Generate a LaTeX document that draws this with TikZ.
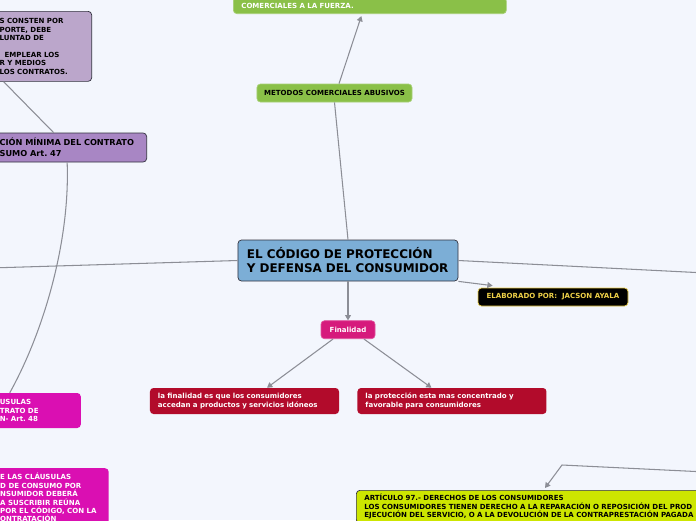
\documentclass[tikz,border=0pt]{standalone}
\usepackage{fontspec}
\setmainfont{DejaVu Sans}
\usetikzlibrary{arrows.meta, positioning}
\definecolor{mapbg}{RGB}{243, 246, 253}
\definecolor{mapline}{RGB}{140, 142, 150}
\definecolor{mapedge}{RGB}{50, 50, 62}
\definecolor{lilac}{RGB}{187, 166, 203}
\definecolor{mapviolet}{RGB}{168, 134, 196}
\definecolor{mapgreen}{RGB}{138, 192, 72}
\definecolor{mapblue}{RGB}{124, 174, 214}
\definecolor{mappink}{RGB}{214, 26, 124}
\definecolor{mapred}{RGB}{178, 11, 43}
\definecolor{mapmagenta}{RGB}{218, 15, 178}
\definecolor{maplime}{RGB}{205, 230, 0}
\definecolor{mapgold}{RGB}{238, 208, 72}
\newcommand{\mapfont}{\fontsize{6}{7.2}\selectfont\bfseries}
\newcommand{\titlefont}{\fontsize{10.2}{11.9}\selectfont\bfseries}
\newcommand{\midfont}{\fontsize{7}{9.35}\selectfont\bfseries}
\tikzset{
  darkbox/.style={
    rectangle, rounded corners=3pt,
    fill=#1, draw=mapedge, line width=0.6pt,
    inner sep=0pt, font=\mapfont
  },
  lightbox/.style={
    rectangle, rounded corners=3pt,
    fill=#1, draw=#1!75!white, line width=0.6pt,
    inner sep=0pt, font=\mapfont
  },
  flatbox/.style={
    rectangle, rounded corners=3pt,
    fill=#1, inner sep=0pt, font=\mapfont
  },
  link/.style={
    draw=mapline, line width=0.9pt
  },
  arrow/.style={
    link, -{Triangle[length=4.5pt, width=5pt]}
  }
}

\begin{document}
\frenchspacing
\begin{tikzpicture}[x=0.03cm, y=-0.03cm]

  % ── Canvas ─────────────────────────────────────────────
  \fill[mapbg] (0,0) rectangle (696,520);
  \useasboundingbox (0,0) rectangle (696,520);
  \clip (0,0) rectangle (696,520);

  % ── Central topic ──────────────────────────────────────
  \node[darkbox=mapblue, font=\titlefont,
        minimum width=6.6cm, minimum height=1.23cm,
        text width=6.06cm, inner xsep=0.27cm, align=left]
    (codigo) at (348,260.5)
    {EL CÓDIGO DE PROTECCIÓN\\Y DEFENSA DEL CONSUMIDOR};

  % ── Upper branch ───────────────────────────────────────
  \node[lightbox=mapgreen, minimum width=4.65cm, minimum height=0.54cm]
    (metodos) at (334.5,93) {METODOS COMERCIALES ABUSIVOS};
  \node[lightbox=mapgreen, text=white, anchor=south west,
        minimum width=8.19cm, minimum height=0.48cm,
        text width=7.71cm, inner xsep=0.24cm, align=left]
    (comerciales) at (233,14) {COMERCIALES A LA FUERZA.};

  % ── Left branch ────────────────────────────────────────
  \node[darkbox=lilac, anchor=north east,
        minimum width=3.12cm, minimum height=2.1cm,
        text width=2.4cm, inner xsep=0.36cm, align=left]
    (pactos) at (92,11)
    {S CONSTEN POR\\PORTE, DEBE\\LUNTAD DE\\[7.2pt]
     \hspace*{0.15cm}EMPLEAR LOS\\R Y MEDIOS\\LOS CONTRATOS.};
  \node[darkbox=mapviolet, font=\midfont, anchor=east,
        minimum width=4.77cm, minimum height=0.87cm,
        text width=4.05cm, inner xsep=0.36cm, align=left]
    (minima) at (147,147.5)
    {CIÓN MÍNIMA DEL CONTRATO\\SUMO Art. 47};
  \node[flatbox=mapmagenta, text=white, anchor=east,
        font=\fontsize{6}{7.6}\selectfont\bfseries,
        minimum width=2.79cm, minimum height=1.05cm,
        text width=2.07cm, inner xsep=0.36cm, align=left]
    (art48) at (81,410.5)
    {USULAS\\TRATO DE\\N- Art. 48};
  \node[flatbox=mapmagenta, text=white, anchor=north west,
        inner xsep=0.36cm, inner ysep=0.15cm, align=left]
    (clausulas) at (-12,468)
    {E LAS CLÁUSULAS\\D DE CONSUMO POR\\NSUMIDOR DEBERÁ\\
     A SUSCRIBIR REÚNA\\POR EL CÓDIGO, CON LA\\ONTRATACIÓN};

  % ── Author ─────────────────────────────────────────────
  \node[flatbox=black, draw=mapgold, line width=0.6pt, text=mapgold,
        minimum width=4.5cm, minimum height=0.54cm]
    (elaborado) at (553,297) {ELABORADO POR:\ \ JACSON AYALA};

  % ── Finalidad ──────────────────────────────────────────
  \node[lightbox=mappink, text=white,
        minimum width=1.62cm, minimum height=0.54cm,
        below=1.17cm of codigo]
    (finalidad) {Finalidad};
  \node[flatbox=mapred, text=white,
        minimum width=5.67cm, minimum height=0.78cm,
        text width=5.19cm, inner xsep=0.24cm, align=left]
    (fin1) at (244.5,401)
    {la finalidad es que los consumidores\\accedan a productos y servicios idóneos};
  \node[flatbox=mapred, text=white,
        minimum width=5.67cm, minimum height=0.78cm,
        text width=5.19cm, inner xsep=0.24cm, align=left,
        right=0.54cm of fin1]
    (fin2)
    {la protección esta mas concentrado y\\favorable para consumidores};

  % ── Article 97 ─────────────────────────────────────────
  \node[darkbox=maplime, anchor=north west,
        text width=11.5cm, inner xsep=0.24cm, inner ysep=0.12cm,
        align=left]
    (art97) at (356,490)
    {ARTÍCULO 97.- DERECHOS DE LOS CONSUMIDORES\\
     LOS CONSUMIDORES TIENEN DERECHO A LA REPARACIÓN O REPOSICIÓN DEL PROD\\
     EJECUCIÓN DEL SERVICIO, O A LA DEVOLUCIÓN DE LA CONTRAPRESTACIÓN PAGADA};

  % ── Free ends off the page ─────────────────────────────
  \coordinate (westout) at (-10,268);
  \coordinate (eastout) at (706,273);
  \coordinate (eastin)  at (706,472);
  \coordinate (elbow)   at (562,465);

  % ── Connectors ─────────────────────────────────────────
  \draw[link] (codigo.north) -- (metodos.south);
  \draw[arrow] ([xshift=0.135cm]metodos.north)
    -- ([xshift=-0.255cm, yshift=-0.06cm]comerciales.south);
  \draw[link] (codigo.west) -- (westout);
  \draw[link] (codigo.east) -- (eastout);
  \draw[arrow] (codigo.south east)
    -- ([xshift=0.45cm, yshift=0.06cm]elaborado.north west);
  \draw[arrow] (codigo.south) -- (finalidad.north);
  \draw[arrow] ([xshift=-0.45cm]finalidad.south)
    -- ([xshift=0.675cm]fin1.north);
  \draw[arrow] ([xshift=0.48cm]finalidad.south)
    -- ([xshift=-0.615cm]fin2.north);
  \draw[link] ([xshift=-0.405cm]minima.north)
    -- ([xshift=-1.08cm]pactos.south);
  \draw[link] (minima.south)
    .. controls +(3,77) and +(35,-63) .. ([xshift=-0.735cm]art48.north);
  \draw[arrow] (eastin) -- (elbow)
    -- ([xshift=5.67cm, yshift=0.06cm]art97.north west);

\end{tikzpicture}
\end{document}
